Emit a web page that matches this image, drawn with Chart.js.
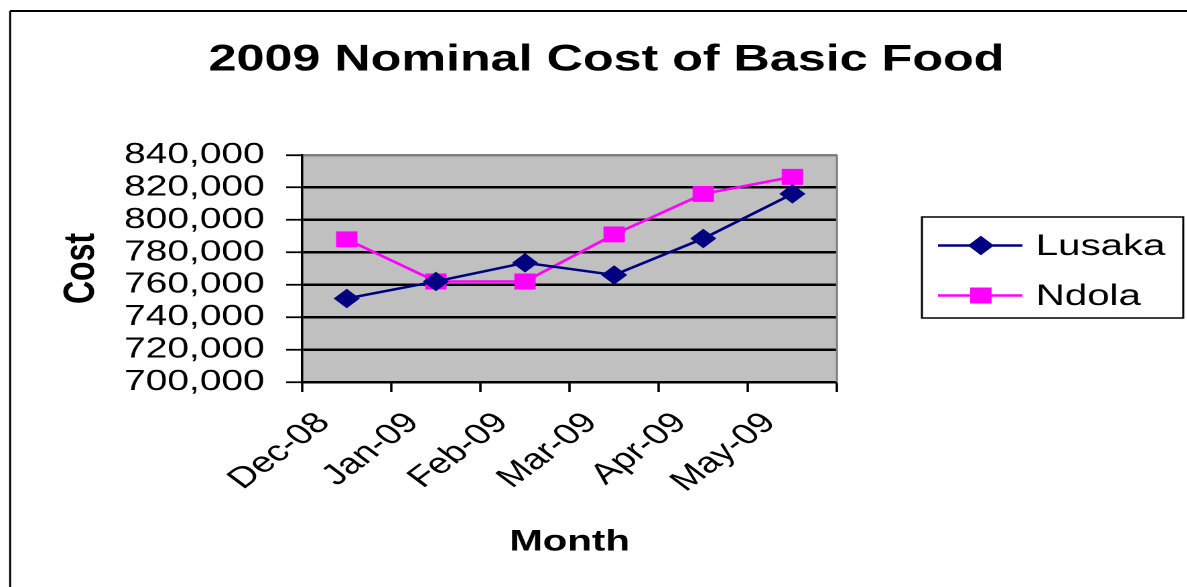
<!DOCTYPE html>
<html>
<head>
<meta charset="utf-8">
<script src="https://cdn.jsdelivr.net/npm/chart.js@4/dist/chart.umd.min.js"></script>
<style>
  html, body { margin: 0; padding: 0; background: #fff; overflow: hidden; }
  #wrap { width: 1187px; height: 587px; overflow: hidden; }
  /* the original picture is stretched sideways, so the canvas is too */
  #chart { transform: scaleX(1.34); transform-origin: 0 0; display: block; }
</style>
</head>
<body>
<div id="wrap"><canvas id="chart" width="886" height="587"></canvas></div>
<script>
const months = ["Dec-08", "Jan-09", "Feb-09", "Mar-09", "Apr-09", "May-09"];
const lusaka = [751500, 762000, 773500, 766000, 788500, 816000];
const ndola = [788000, 762000, 762000, 791000, 816000, 826500];
const yTicks = [700000, 720000, 740000, 760000, 780000, 800000, 820000, 840000];

const FONT = "'Liberation Sans', Arial, sans-serif";

// gray plot area + outer frame
const backdrop = {
  id: "backdrop",
  beforeDraw(chart) {
    const ctx = chart.ctx, a = chart.chartArea;
    ctx.save();
    ctx.fillStyle = "#fff";
    ctx.fillRect(0, 0, chart.width, chart.height);
    ctx.fillStyle = "#c0c0c0";
    ctx.fillRect(a.left, a.top, a.right - a.left, a.bottom - a.top);
    ctx.strokeStyle = "#000";
    ctx.lineWidth = 2;
    ctx.beginPath();
    ctx.moveTo(7.5, 11);
    ctx.lineTo(chart.width + 5, 11);
    ctx.stroke();
    ctx.lineWidth = 1.5;
    ctx.beginPath();
    ctx.moveTo(7.5, 11);
    ctx.lineTo(7.5, chart.height + 5);
    ctx.stroke();
    ctx.restore();
  },
  beforeDatasetsDraw(chart) {
    const ctx = chart.ctx, a = chart.chartArea;
    ctx.save();
    ctx.strokeStyle = "#808080";
    ctx.lineWidth = 1.5;
    ctx.beginPath();
    ctx.moveTo(a.right, a.top);
    ctx.lineTo(a.right, a.bottom);
    ctx.stroke();
    ctx.restore();
  }
};

// title and boxed legend (line + marker samples)
const extras = {
  id: "extras",
  afterDraw(chart) {
    const ctx = chart.ctx;
    ctx.save();
    ctx.fillStyle = "#000";
    ctx.textAlign = "center";
    ctx.textBaseline = "middle";
    ctx.font = "bold 37.5px " + FONT;
    ctx.fillText("2009 Nominal Cost of Basic Food", 452.6, 60);

    ctx.strokeStyle = "#000";
    ctx.lineWidth = 1.5;
    ctx.strokeRect(688, 217, 195, 101);

    const rows = [245.5, 295.5];
    chart.data.datasets.forEach((ds, i) => {
      const y = rows[i];
      ctx.strokeStyle = ds.borderColor;
      ctx.lineWidth = ds.borderWidth;
      ctx.beginPath();
      ctx.moveTo(700, y);
      ctx.lineTo(763, y);
      ctx.stroke();
      ctx.fillStyle = ds.pointBackgroundColor;
      ctx.strokeStyle = ds.pointBorderColor;
      Chart.helpers.drawPoint(ctx, {
        pointStyle: ds.pointStyle, radius: ds.pointRadius, rotation: 0, borderWidth: 1
      }, 732, y);
      ctx.fillStyle = "#000";
      ctx.textAlign = "left";
      ctx.font = "30px " + FONT;
      ctx.fillText(ds.label, 773, y + 1);
    });
    ctx.restore();
  }
};

new Chart(document.getElementById("chart"), {
  type: "line",
  data: {
    labels: months,
    datasets: [{
      label: "Lusaka",
      data: lusaka,
      borderColor: "#000080",
      borderWidth: 2.5,
      pointStyle: "rectRot",
      pointRadius: 8,
      pointBackgroundColor: "#000080",
      pointBorderColor: "#000080",
      tension: 0
    }, {
      label: "Ndola",
      data: ndola,
      borderColor: "#ff00ff",
      borderWidth: 2.5,
      pointStyle: "rect",
      pointRadius: 9.5,
      pointBackgroundColor: "#ff00ff",
      pointBorderColor: "#ff00ff",
      tension: 0
    }]
  },
  options: {
    responsive: false,
    animation: false,
    devicePixelRatio: 2,
    layout: { padding: { left: 7.5, right: 261.4, top: 155, bottom: 0 } },
    plugins: {
      legend: { display: false },
      title: { display: false },
      tooltip: { enabled: false }
    },
    scales: {
      x: {
        offset: true,
        grid: { offset: true, drawOnChartArea: false, tickLength: 10, tickColor: "#000", tickWidth: 1.8 },
        border: { color: "#000", width: 2.5 },
        ticks: {
          autoSkip: false, minRotation: 45, maxRotation: 45, padding: 14, labelOffset: -17,
          color: "#000", font: { family: FONT, size: 29 }
        },
        title: {
          display: true, text: "Month", color: "#000",
          font: { family: FONT, size: 30, weight: "bold" }, padding: { top: 0, bottom: 27 }
        },
        afterFit(scale) { scale.height = 205; }
      },
      y: {
        min: yTicks[0],
        max: yTicks[yTicks.length - 1],
        afterBuildTicks(scale) { scale.ticks = yTicks.map(v => ({ value: v })); },
        grid: {
          color: c => (c.tick && c.tick.value === yTicks[yTicks.length - 1]) ? "#808080" : "#000",
          lineWidth: 2.5, tickLength: 12, tickColor: "#000", tickWidth: 1.8
        },
        border: { color: "#000", width: 1.8 },
        ticks: {
          autoSkip: false, padding: 16, color: "#000", font: { family: FONT, size: 29 },
          callback: v => v.toLocaleString("en-US")
        },
        title: {
          display: true, text: "Cost", color: "#000",
          font: { family: FONT, size: 32, weight: "bold" }, padding: { top: 34.5, bottom: 0 }
        },
        afterFit(scale) { scale.width = 218; }
      }
    }
  },
  plugins: [backdrop, extras]
});
</script>
</body>
</html>
